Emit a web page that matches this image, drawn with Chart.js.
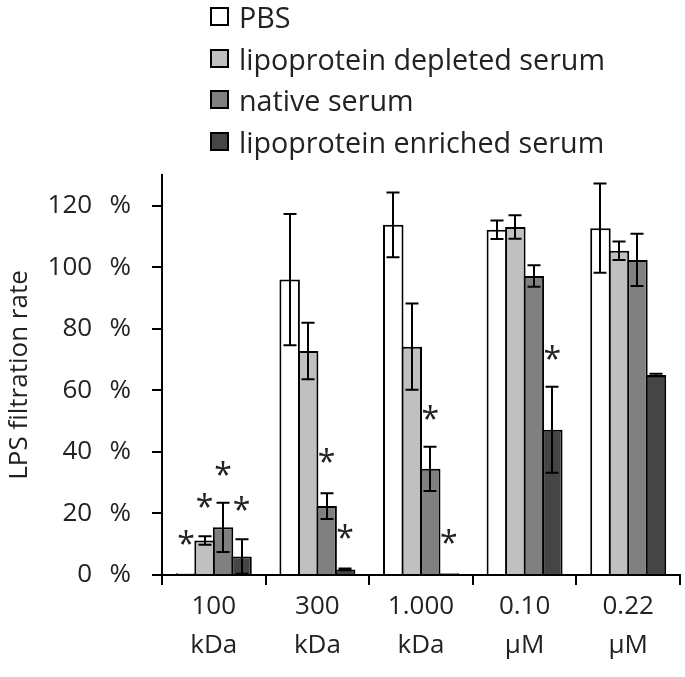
<!DOCTYPE html>
<html><head><meta charset="utf-8">
<script src="https://cdn.jsdelivr.net/npm/chart.js@4.4.1/dist/chart.umd.min.js"></script>
<style>
html,body{margin:0;padding:0;background:#fff;}
#wrap{position:relative;width:685px;height:677px;overflow:hidden;}
#c{position:absolute;left:0;top:0;}
#legend{position:absolute;left:210px;top:-4px;font-family:"Open Sans",sans-serif;font-size:28.7px;color:#222;}
.item{height:41.5px;display:flex;align-items:center;white-space:nowrap;}
.box{width:15px;height:15px;border:2px solid #000;margin-right:10px;flex:none;}
</style></head><body>
<div id="wrap"><canvas id="c" width="685" height="677"></canvas><div id="legend"></div></div>
<script>
const categories = [["100","kDa"],["300","kDa"],["1.000","kDa"],["0.10","µM"],["0.22","µM"]];
const seriesNames = ["PBS","lipoprotein depleted serum","native serum","lipoprotein enriched serum"];
const seriesColors = ["#ffffff","#c0c0c0","#808080","#454545"];

const pbs        = [0.6, 96.0, 113.8, 112.2, 112.7];
const depleted   = [11.2, 72.8, 74.2, 113.1, 105.4];
const native     = [15.5, 22.4, 34.5, 97.2, 102.4];
const enriched   = [6.0, 1.8, 0.6, 47.2, 65.0];

const pbsErr      = [0, 21.3, 10.5, 3.0, 14.5];
const depletedErr = [1.4, 9.2, 14.0, 3.8, 3.0];
const nativeErr   = [8.0, 4.2, 7.2, 3.5, 8.5];
const enrichedErr = [5.6, 0.3, 0, 14.0, 0.4];

// asterisk heights (%), null = no asterisk
const pbsStars      = [12.3, null, null, null, null];
const depletedStars = [24.2, null, null, null, null];
const nativeStars   = [34.7, 39.0, 52.9, null, null];
const enrichedStars = [23.3, 14.3, 12.5, 72.3, null];

const yTicks = [0, 20, 40, 60, 80, 100, 120];

const FONT = "'Open Sans', sans-serif";
const TXT = "#222";

const values = [pbs, depleted, native, enriched];
const errs = [pbsErr, depletedErr, nativeErr, enrichedErr];
const stars = [pbsStars, depletedStars, nativeStars, enrichedStars];

const datasets = seriesNames.map((n, i) => ({
  label: n,
  data: values[i],
  errors: errs[i],
  stars: stars[i],
  backgroundColor: seriesColors[i],
  borderColor: "#000",
  borderWidth: 2,
  borderSkipped: "start",
  categoryPercentage: 0.714,
  barPercentage: 1.108
}));

const errorBars = {
  id: "errorBars",
  afterDatasetsDraw(chart) {
    const ctx = chart.ctx, y = chart.scales.y;
    ctx.save();
    ctx.strokeStyle = "#000";
    ctx.lineWidth = 2;
    chart.data.datasets.forEach((ds, i) => {
      const meta = chart.getDatasetMeta(i);
      meta.data.forEach((bar, j) => {
        const e = ds.errors[j];
        if (!e) return;
        const v = ds.data[j];
        const yt = y.getPixelForValue(v + e);
        const yb = y.getPixelForValue(Math.max(0, v - e));
        const x = Math.round(bar.x), hw = 6.5;
        ctx.beginPath();
        ctx.moveTo(x, yt); ctx.lineTo(x, yb);
        ctx.moveTo(x - hw, yt); ctx.lineTo(x + hw, yt);
        ctx.moveTo(x - hw, yb); ctx.lineTo(x + hw, yb);
        ctx.stroke();
      });
    });
    ctx.fillStyle = "#222";
    ctx.font = "32px " + FONT;
    ctx.textAlign = "center";
    ctx.textBaseline = "alphabetic";
    const m = ctx.measureText("*");
    const off = (m.actualBoundingBoxAscent - m.actualBoundingBoxDescent) / 2;
    chart.data.datasets.forEach((ds, i) => {
      const meta = chart.getDatasetMeta(i);
      meta.data.forEach((bar, j) => {
        const s = ds.stars[j];
        if (s == null) return;
        ctx.fillText("*", bar.x, y.getPixelForValue(s) + off);
      });
    });
    ctx.restore();
  }
};

const chart = new Chart(document.getElementById("c"), {
  type: "bar",
  data: { labels: categories, datasets },
  options: {
    responsive: false,
    animation: false,
    devicePixelRatio: 1,
    layout: { padding: { top: 175, right: 5, left: 0, bottom: 0 } },
    plugins: { legend: { display: false }, tooltip: { enabled: false } },
    scales: {
      x: {
        z: 1,
        offset: true,
        grid: { offset: true, drawOnChartArea: false, drawTicks: true, tickLength: 10, color: "#000", lineWidth: 2 },
        border: { display: true, color: "#000", width: 2 },
        ticks: { color: TXT, font: { family: FONT, size: 26, lineHeight: 1.5 }, padding: 2, maxRotation: 0, autoSkip: false },
        afterFit(s) { s.height = 102; }
      },
      y: {
        min: 0, max: 130,
        afterBuildTicks(s) { s.ticks = yTicks.map(v => ({ value: v })); },
        grid: { drawOnChartArea: false, drawTicks: true, tickLength: 10, color: "#000", lineWidth: 2 },
        border: { display: true, color: "#000", width: 2 },
        ticks: { color: TXT, font: { family: FONT, size: 26 }, padding: 21, callback: v => v + "\u2002\u2009%" },
        title: { display: true, text: "LPS filtration rate", color: TXT, font: { family: FONT, size: 26 }, padding: { top: 4, bottom: 0 } },
        afterFit(s) { s.width = 162; }
      }
    }
  },
  plugins: [errorBars]
});

const leg = document.getElementById("legend");
chart.data.datasets.forEach(ds => {
  const it = document.createElement("div");
  it.className = "item";
  const b = document.createElement("span");
  b.className = "box";
  b.style.background = ds.backgroundColor;
  const t = document.createElement("span");
  t.textContent = ds.label;
  it.appendChild(b); it.appendChild(t);
  leg.appendChild(it);
});
</script>
</body></html>
